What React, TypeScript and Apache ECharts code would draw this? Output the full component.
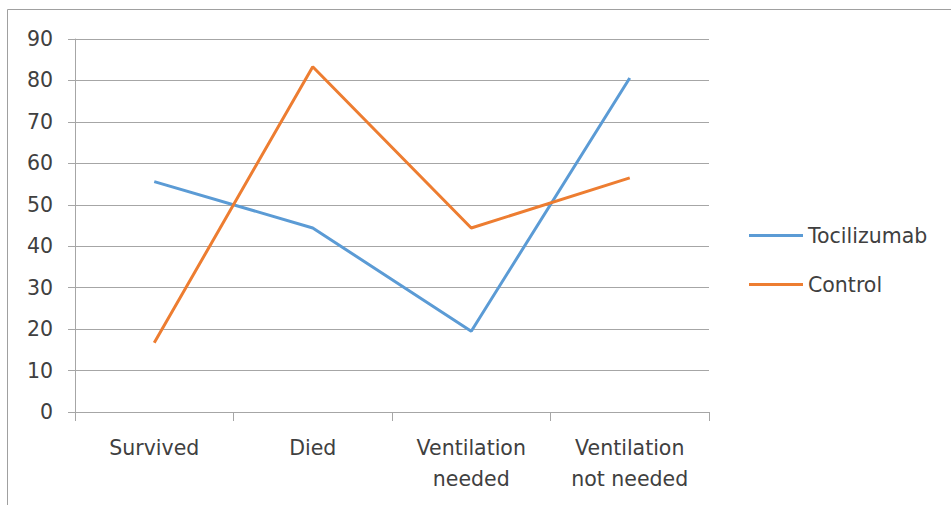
import React, { useEffect, useRef } from "react";
import * as echarts from "echarts";

const categories = ["Survived", "Died", "Ventilation\nneeded", "Ventilation\nnot needed"];
const tocilizumab = [55.6, 44.4, 19.5, 80.6];
const control = [16.7, 83.3, 44.4, 56.5];
const seriesNames = ["Tocilizumab", "Control"];

const FONT = "'DejaVu Sans', sans-serif";
const TEXT = "#404040";
const GRID = "#A6A6A6";
const FS = 20.5;

export default function App() {
  const ref = useRef<HTMLDivElement>(null);
  useEffect(() => {
    if (!ref.current) return;
    const chart = echarts.init(ref.current, undefined, { renderer: "svg" });
    chart.setOption({
      animation: false,
      backgroundColor: "#ffffff",
      textStyle: { fontFamily: FONT },
      graphic: [
        {
          type: "rect",
          shape: { x: 7.5, y: 9.5, width: 1000, height: 600 },
          style: { fill: "none", stroke: "#A0A0A0", lineWidth: 1 },
          silent: true,
        },
      ],
      grid: { left: 75, right: 242, top: 39, bottom: 93, containLabel: false },
      legend: {
        orient: "vertical",
        left: 744,
        top: 220,
        icon: "rect",
        itemWidth: 54,
        itemHeight: 3,
        itemGap: 28,
        data: seriesNames,
        textStyle: { fontFamily: FONT, fontSize: FS, color: TEXT },
      },
      xAxis: {
        type: "category",
        data: categories,
        boundaryGap: true,
        axisLine: { show: true, lineStyle: { color: GRID, width: 1 } },
        axisTick: { show: true, length: 9, alignWithLabel: false, lineStyle: { color: GRID } },
        axisLabel: {
          fontFamily: FONT,
          fontSize: FS,
          color: TEXT,
          margin: 20,
          lineHeight: 31,
          interval: 0,
        },
        splitLine: { show: false },
      },
      yAxis: {
        type: "value",
        min: 0,
        max: 90,
        interval: 10,
        axisLine: { show: true, lineStyle: { color: GRID, width: 1 } },
        axisTick: { show: true, length: 7, lineStyle: { color: GRID } },
        axisLabel: { fontFamily: FONT, fontSize: FS, color: TEXT, margin: 22 },
        splitLine: { show: true, lineStyle: { color: GRID, width: 1 } },
      },
      series: [
        {
          name: seriesNames[0],
          type: "line",
          data: tocilizumab,
          symbol: "none",
          color: "#5B9BD5",
          lineStyle: { width: 3, color: "#5B9BD5" },
        },
        {
          name: seriesNames[1],
          type: "line",
          data: control,
          symbol: "none",
          color: "#ED7D31",
          lineStyle: { width: 3, color: "#ED7D31" },
        },
      ],
    });
    return () => chart.dispose();
  }, []);
  return (
    <div
      ref={ref}
      style={{ position: "absolute", left: 0, top: 0, width: 951, height: 505 }}
    />
  );
}
